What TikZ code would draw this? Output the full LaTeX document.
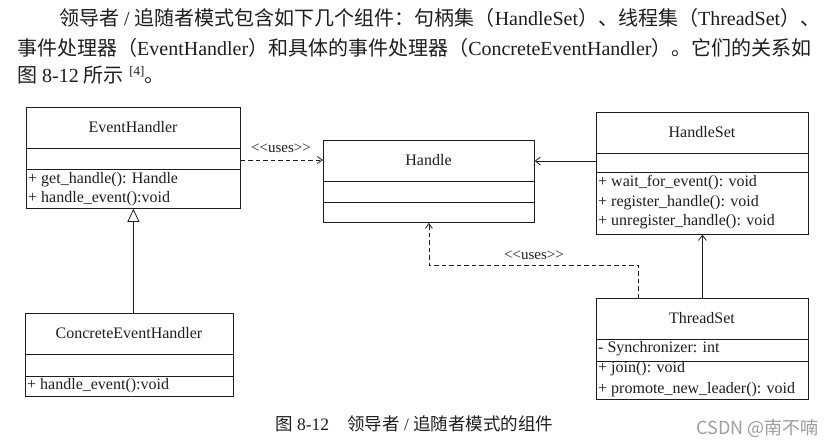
\documentclass[tikz,border=0pt]{standalone}
\usepackage{fontspec}
\setmainfont{Liberation Serif}
\newfontfamily\cjk{Noto Sans CJK SC}
\usetikzlibrary{arrows.meta,calc}
\definecolor{ink}{HTML}{1E1E1E}
\newcommand{\usesstereo}{\textless\kern0pt\textless\kern0pt uses\kern0pt\textgreater\kern0pt\textgreater}
\tikzset{
  umlbox/.style={draw=ink, line width=0.8pt, inner sep=0pt, anchor=north west},
  divider/.style={draw=ink, line width=0.8pt},
  ctitle/.style={inner sep=0pt, font=\fontsize{16}{18}\selectfont, text=ink},
  member/.style={inner sep=0pt, anchor=west, font=\fontsize{16}{18}\selectfont, text=ink},
  stereo/.style={inner sep=0pt, font=\fontsize{15}{17}\selectfont, text=ink},
  uses/.style={draw=ink, line width=0.8pt, dash pattern=on 4.5pt off 3pt, -{Straight Barb[length=5pt,width=7pt]}},
  assoc/.style={draw=ink, line width=0.8pt, -{Straight Barb[length=5pt,width=8pt]}},
  inherit/.style={draw=ink, line width=0.8pt, -{Triangle[open,length=13pt,width=12pt,fill=white]}},
  para/.style={inner sep=0pt, anchor=base west, font=\fontsize{20}{24}\selectfont, text=ink},
}
\begin{document}
\begin{tikzpicture}[x=1pt,y=-1pt]
\useasboundingbox[fill=white] (0,0) rectangle (834,445);

% ---- paragraph text ----
\node[para] (p1) at (59,25) {{\cjk 领导者} / {\cjk 追随者模式包含如下几个组件：句柄集（}HandleSet{\cjk ）、线程集（}ThreadSet{\cjk ）、}};
\node[para] (p2) at (17,55) {{\cjk 事件处理器（}EventHandler{\cjk ）和具体的事件处理器（}ConcreteEventHandler{\cjk ）。它们的关系如}};
\node[para] (p3) at (17,82) {{\cjk 图} 8-12 {\cjk 所示}\;\raisebox{7pt}{\fontsize{13}{14}\selectfont [4]}{\cjk 。}};

% ---- EventHandler ----
\node[umlbox, minimum width=214pt, minimum height=101pt] (eh) at (26,107) {};
\draw[divider] (26,148) -- (240,148);
\draw[divider] (26,169) -- (240,169);
\node[ctitle] (ehT) at (133,127) {EventHandler};
\node[member] (ehM1) at (28,180) {+ get\_handle(): Handle};
\node[member] (ehM2) at (28,199) {+ handle\_event():void};

% ---- Handle ----
\node[umlbox, minimum width=211pt, minimum height=82pt] (hd) at (323,140) {};
\draw[divider] (323,181) -- (534,181);
\draw[divider] (323,202) -- (534,202);
\node[ctitle] (hdT) at (428.5,160) {Handle};

% ---- HandleSet ----
\node[umlbox, minimum width=212pt, minimum height=122pt] (hs) at (596,112) {};
\draw[divider] (596,153) -- (808,153);
\draw[divider] (596,172) -- (808,172);
\node[ctitle] (hsT) at (702,132) {HandleSet};
\node[member] (hsM1) at (598,183) {+ wait\_for\_event(): void};
\node[member] (hsM2) at (598,203) {+ register\_handle(): void};
\node[member] (hsM3) at (598,222) {+ unregister\_handle(): void};

% ---- ThreadSet ----
\node[umlbox, minimum width=212pt, minimum height=101pt] (ts) at (596,298) {};
\draw[divider] (596,339) -- (808,339);
\draw[divider] (596,361) -- (808,361);
\node[ctitle] (tsT) at (702,318) {ThreadSet};
\node[member] (tsA1) at (598,349) {- Synchronizer: int};
\node[member] (tsM1) at (598,369) {+ join(): void};
\node[member] (tsM2) at (598,390) {+ promote\_new\_leader(): void};

% ---- ConcreteEventHandler ----
\node[umlbox, minimum width=208pt, minimum height=83pt] (ceh) at (25,313) {};
\draw[divider] (25,354) -- (233,354);
\draw[divider] (25,376) -- (233,376);
\node[ctitle] (cehT) at (129,333) {ConcreteEventHandler};
\node[member] (cehM1) at (27,386) {+ handle\_event():void};

% ---- connectors ----
\draw[uses] (eh.east |- hdT) -- (hd.west |- hdT);
\node[stereo] (u1) at (281,148) {\usesstereo};

\draw[assoc] (hs.west |- 0,161) -- (hd.east |- 0,161);

\draw[assoc] (ts.north) -- (hs.south);

\coordinate (tsA) at ($(ts.north west)+(42,0)$);
\coordinate (bend) at (0,265);
\draw[uses] (tsA) -- (tsA |- bend) -| (hd.south);
\node[stereo] (u2) at (534,255) {\usesstereo};

\draw[inherit] (ceh.north -| eh.south) -- (eh.south);

% ---- caption ----
\node[inner sep=0pt, anchor=base west, font=\fontsize{17.5}{20}\selectfont, text=ink] (cap) at (275,430)
  {{\cjk 图} 8-12\hspace{18pt}{\cjk 领导者} / {\cjk 追随者模式的组件}};
\node[inner sep=0pt, anchor=base east, font=\cjk\fontsize{18}{20}\selectfont, text=black!38] (wm) at (819,434)
  {CSDN @南不喃};
\end{tikzpicture}
\end{document}
